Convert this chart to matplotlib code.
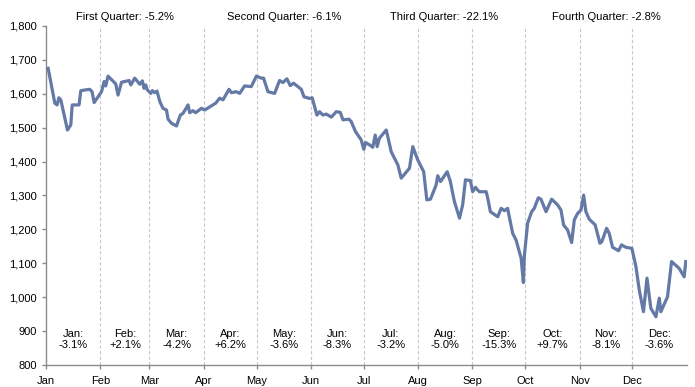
import pandas as pd
import matplotlib
matplotlib.use("Agg")
import matplotlib.pyplot as plt
import matplotlib.dates as mdates
import matplotlib.ticker as mticker

plt.rcParams["font.family"] = ["Liberation Sans", "DejaVu Sans"]

# day of year (days after Jan 1) and index level
days = [1.3, 5.1, 6.4, 7.4, 8.5, 12.3, 14.2, 15.0, 18.9, 19.9, 22.2, 25.0, 26.3, 27.5,
        31.7, 33.2, 34.1, 35.4, 39.8, 41.1, 43.1, 47.4, 48.4, 50.6, 53.5, 55.0, 55.9,
        56.9, 57.6, 59.7, 60.7, 62.0, 63.3, 64.9, 66.7, 68.7, 69.6, 71.5, 74.4, 76.6,
        78.1, 81.0, 81.9, 83.8, 85.3, 88.6, 90.5, 95.2, 96.7, 99.0, 100.9, 104.3, 105.7,
        108.5, 110.4, 113.2, 117.0, 119.9, 122.7, 124.0, 126.5, 130.3, 133.1, 135.0,
        137.3, 139.2, 141.1, 145.5, 147.0, 150.2, 151.7, 154.4, 155.9, 157.8, 159.7,
        162.6, 165.4, 167.7, 169.2, 172.6, 173.9, 176.4, 179.6, 181.1, 182.1, 184.4,
        186.2, 187.6, 188.7, 190.0, 193.9, 196.7, 200.5, 202.4, 207.1, 209.0, 211.8,
        215.2, 217.0, 219.1, 222.3, 223.2, 224.8, 228.6, 230.4, 232.7, 235.6, 237.4,
        239.0, 241.8, 243.1, 244.7, 245.6, 246.9, 250.8, 251.7, 253.2, 257.4, 259.3,
        261.2, 263.0, 265.9, 267.8, 270.7, 272.0, 272.5, 274.4, 276.7, 278.2, 280.5,
        282.0, 284.9, 288.1, 291.5, 293.4, 294.9, 297.2, 299.5, 301.0, 302.9, 304.8,
        306.3, 307.6, 309.5, 312.9, 315.6, 316.7, 319.4, 320.9, 322.8, 326.2, 327.9,
        330.4, 333.8, 336.1, 338.0, 340.4, 342.4, 344.6, 347.5, 349.4, 350.3, 354.1,
        356.4, 360.7, 363.6, 364.5]
level = [1675, 1572, 1567, 1588, 1582, 1493, 1508, 1567, 1567, 1609, 1611, 1613, 1606, 1574,
         1606, 1636, 1623, 1652, 1629, 1596, 1634, 1639, 1626, 1646, 1628, 1638, 1616,
         1626, 1613, 1601, 1609, 1603, 1608, 1577, 1557, 1552, 1525, 1513, 1505, 1537,
         1542, 1567, 1544, 1550, 1544, 1557, 1552, 1567, 1572, 1587, 1582, 1613, 1603,
         1606, 1601, 1623, 1621, 1652, 1646, 1646, 1606, 1601, 1639, 1633,
         1644, 1624, 1631, 1613, 1591, 1586, 1588, 1537, 1547, 1537, 1540,
         1531, 1547, 1545, 1523, 1525, 1518, 1488, 1464, 1436, 1456, 1449,
         1442, 1478, 1444, 1469, 1493, 1429, 1390, 1351, 1380, 1444, 1405,
         1370, 1287, 1289, 1331, 1358, 1341, 1370, 1341, 1282, 1233, 1272,
         1346, 1344, 1311, 1324, 1318, 1311, 1311, 1292, 1252, 1237, 1262,
         1255, 1262, 1188, 1169, 1115, 1043, 1119, 1218, 1252, 1262, 1293,
         1289, 1252, 1289, 1272, 1257, 1213, 1198, 1161, 1228, 1247, 1257,
         1301, 1252, 1230, 1213, 1159, 1164, 1203, 1188, 1147, 1137, 1154,
         1147, 1144, 1090, 1021, 957, 1056, 967, 942, 997, 957, 1001,
         1105, 1085, 1060, 1105]

months = ["Jan", "Feb", "Mar", "Apr", "May", "Jun", "Jul", "Aug", "Sep", "Oct", "Nov", "Dec"]
month_returns = ["-3.1%", "+2.1%", "-4.2%", "+6.2%", "-3.6%", "-8.3%",
                 "-3.2%", "-5.0%", "-15.3%", "+9.7%", "-8.1%", "-3.6%"]
quarters = ["First Quarter: -5.2%", "Second Quarter: -6.1%",
            "Third Quarter: -22.1%", "Fourth Quarter: -2.8%"]

start = pd.Timestamp("2011-01-01")
dates = start + pd.to_timedelta(days, unit="D")
month_starts = pd.date_range("2011-01-01", periods=13, freq="MS")

fig = plt.figure(figsize=(6.95, 3.87), dpi=100)
ax = fig.add_axes([0.066, 0.057, 0.922, 0.876])

# month separators
for m in month_starts[1:12]:
    ax.axvline(m, color="#c8c8c8", linestyle=(0, (3, 2)), linewidth=0.8, zorder=1)

ax.plot(dates, level, color="#6479a6", linewidth=2.3, solid_joinstyle="round", zorder=3)

# monthly returns
for i in range(12):
    mid = month_starts[i] + (month_starts[i + 1] - month_starts[i]) / 2
    ax.text(mid, 874, months[i] + ":\n" + month_returns[i], ha="center", va="center",
            fontsize=8, linespacing=1.15)

# quarter returns above the plot
for q in range(4):
    mid = month_starts[3 * q] + (month_starts[3 * q + 3] - month_starts[3 * q]) / 2
    ax.text(mid, 1813, quarters[q], ha="center", va="bottom", fontsize=8, clip_on=False)

ax.set_xlim(month_starts[0], month_starts[12])
ax.set_ylim(800, 1800)
ax.set_yticks(range(800, 1801, 100))
ax.yaxis.set_major_formatter(mticker.FuncFormatter(lambda v, p: f"{int(v):,}"))
ax.set_xticks(month_starts[:12])
ax.xaxis.set_major_formatter(mdates.DateFormatter("%b"))

for s in ["top", "right"]:
    ax.spines[s].set_visible(False)
for s in ["left", "bottom"]:
    ax.spines[s].set_color("#8c8c8c")
    ax.spines[s].set_linewidth(1.0)
ax.tick_params(axis="both", colors="#8c8c8c", labelcolor="black", labelsize=8,
               length=3, width=1)
ax.tick_params(axis="x", pad=5)

fig.savefig("out.png", dpi=100)
